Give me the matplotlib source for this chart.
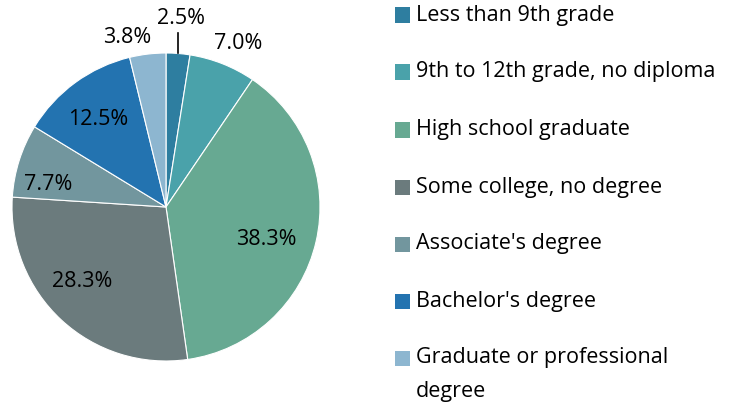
import numpy as np
import matplotlib
matplotlib.use("Agg")
import matplotlib.pyplot as plt
from matplotlib.patches import Rectangle

plt.rcParams['font.family'] = ['Open Sans', 'DejaVu Sans']

categories = ["Less than 9th grade", "9th to 12th grade, no diploma", "High school graduate",
              "Some college, no degree", "Associate's degree", "Bachelor's degree",
              "Graduate or professional\ndegree"]
values = [2.5, 7.0, 38.3, 28.3, 7.7, 12.5, 3.8]
colors = ["#2E7EA0", "#4AA2AA", "#67A992", "#6B7B7D", "#72969E", "#2373B0", "#8DB6D0"]

label_r = [1.24, 1.17, 0.68, 0.72, 0.78, 0.73, 1.14]
label_off = [0.0, -2.0, -4.0, -6.0, 6.0, 1.0, 6.0]  # angular nudges in degrees

W, H = 749, 407
fig = plt.figure(figsize=(W / 100, H / 100), dpi=100)
cx, cy, R = 166, 207, 154
ax = fig.add_axes([(cx - R) / W, (H - cy - R) / H, 2 * R / W, 2 * R / H])
wedges, _ = ax.pie(values, colors=colors, startangle=90, counterclock=False, radius=1,
                   wedgeprops=dict(edgecolor='white', linewidth=0.8))
ax.set_xlim(-1, 1)
ax.set_ylim(-1, 1)
ax.set_aspect('equal')
ax.axis('off')

for w, v, r, off in zip(wedges, values, label_r, label_off):
    ang = np.deg2rad((w.theta1 + w.theta2) / 2 + off)
    x, y = r * np.cos(ang), r * np.sin(ang)
    ax.text(x, y - 0.012, f"{v:.1f}%", ha='center', va='center', fontsize=15.5, color='black',
            clip_on=False)

# leader line for the smallest slice
w0 = wedges[0]
a0 = np.deg2rad((w0.theta1 + w0.theta2) / 2)
ax.plot([np.cos(a0), np.cos(a0)], [np.sin(a0), 1.13], color='black', lw=1.2, clip_on=False)

# legend
rows_y = [15, 72, 130, 187, 244, 301, 358]
for cat, col, yy in zip(categories, colors, rows_y):
    fig.patches.append(Rectangle((395 / W, 1 - (yy + 7.5) / H), 15 / W, 15 / H,
                                 transform=fig.transFigure, facecolor=col, edgecolor='none'))
    for i, line in enumerate(cat.split('\n')):
        fig.text(416 / W, 1 - (yy + 33 * i) / H, line, ha='left', va='center',
                 fontsize=15.5, color='black')

fig.savefig("out.png", dpi=100, facecolor='white')
